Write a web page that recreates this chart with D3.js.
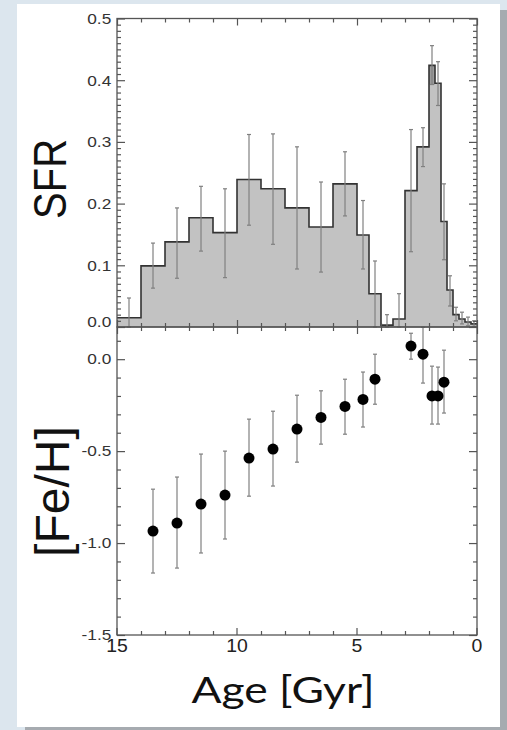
<!DOCTYPE html>
<html>
<head>
<meta charset="utf-8" />
<script src="https://cdn.jsdelivr.net/npm/d3@7"></script>
<style>
body{margin:0;overflow:hidden;}
svg .frame{fill:none;stroke:#555;stroke-width:1.3px;}
svg .axis path{display:none;}
svg .axis line{stroke:#555;stroke-width:1.2px;}
svg .axis text{font-family:"Liberation Sans",Arial,sans-serif;fill:#333;}
svg .hist{fill:#c2c2c2;stroke:none;}
svg .outline{fill:none;stroke:#333;stroke-width:1.6px;}
svg .err{stroke:#808080;stroke-width:1.2px;}
svg .title{font-family:"Liberation Sans",Arial,sans-serif;fill:#111;}
</style>
</head>
<body>
<div id="chart"></div>
<script>
// SFR histogram, bin edges in Gyr (old -> young)
var binEdges = [15,14,13,12,11,10,9,8,7,6,5,4.5,4,3.5,3,2.5,2,1.75,1.5,1.25,1,0.75,0.5,0.25,0];
var sfr   = [0.015,0.099,0.138,0.177,0.153,0.239,0.224,0.193,0.162,0.232,0.149,0.054,0.003,0.013,0.221,0.292,0.424,0.395,0.171,0.060,0.020,0.013,0.008,0.005];
var sfrLo = [0.000,0.063,0.079,0.123,0.080,0.165,0.134,0.094,0.089,0.180,0.094,0.000,0.000,0.000,0.122,0.260,0.393,0.359,0.109,0.034,0.010,0.005,0.002,0.001];
var sfrHi = [0.047,0.136,0.193,0.228,0.224,0.312,0.313,0.292,0.235,0.284,0.205,0.107,0.020,0.054,0.320,0.323,0.456,0.430,0.232,0.083,0.032,0.024,0.016,0.010];

// [Fe/H] vs age
var fehAge = [13.5,12.5,11.5,10.5,9.5,8.5,7.5,6.5,5.5,4.75,4.25,2.75,2.25,1.875,1.625,1.375];
var feh    = [-0.935,-0.891,-0.788,-0.739,-0.538,-0.489,-0.380,-0.317,-0.257,-0.219,-0.109,0.071,0.027,-0.200,-0.200,-0.125];
var fehHi  = [-0.707,-0.641,-0.516,-0.500,-0.326,-0.283,-0.196,-0.172,-0.109,-0.070,0.027,0.141,0.174,-0.038,-0.043,0.049];
var fehLo  = [-1.163,-1.136,-1.054,-0.978,-0.745,-0.690,-0.560,-0.462,-0.408,-0.369,-0.245,0.000,-0.130,-0.353,-0.353,-0.293];

var ageTicks = [15,10,5,0];
var sfrTicks = [0,0.1,0.2,0.3,0.4,0.5];
var fehTicks = [-1.5,-1.0,-0.5,0.0];

var width = 507, height = 730;
var left = 117, right = 477;

var svg = d3.select("#chart").append("svg")
    .attr("width", width)
    .attr("height", height);

// page background, shadow, white card
svg.append("rect").attr("width", width).attr("height", height).attr("fill", "#dce6ee");
svg.append("rect").attr("x", 25).attr("y", 10).attr("width", 482).attr("height", 720).attr("fill", "#a6abb0");
svg.append("rect").attr("x", 17).attr("y", 4).attr("width", 483).attr("height", 723).attr("fill", "#fff");

var x = d3.scaleLinear().domain([15,0]).range([left,right]);
var ySfr = d3.scaleLinear().domain([0,0.5]).range([327,18.5]);
var yFeh = d3.scaleLinear().domain([-1.5,0.175]).range([635,327]);

var bins = sfr.map(function(v,i){
    return {a:binEdges[i], b:binEdges[i+1], v:v, lo:sfrLo[i], hi:sfrHi[i]};
});
var steps = bins.map(function(d){ return {a:d.a, v:d.v}; });
steps.push({a:binEdges[binEdges.length-1], v:sfr[sfr.length-1]});

// histogram fill
var area = d3.area()
    .x(function(d){ return x(d.a); })
    .y0(ySfr(0))
    .y1(function(d){ return ySfr(d.v); })
    .curve(d3.curveStepAfter);
svg.append("path").datum(steps).attr("class","hist").attr("d", area);

// top of the peak bin a little darker
var peak = d3.max(sfr);
svg.selectAll("rect.peak")
    .data(bins.filter(function(d){ return d.v == peak; }))
    .enter().append("rect")
    .attr("class","peak")
    .attr("x", function(d){ return x(d.a); })
    .attr("width", function(d){ return x(d.b) - x(d.a); })
    .attr("y", function(d){ return ySfr(d.v); })
    .attr("height", function(d){ return ySfr(d.lo) - ySfr(d.v); })
    .attr("fill", "#9c9c9c");

var line = d3.line()
    .x(function(d){ return x(d.a); })
    .y(function(d){ return ySfr(d.v); })
    .curve(d3.curveStepAfter);
svg.append("path").datum(steps).attr("class","outline").attr("d", line);

// error bars helper
function errBars(g, data, xf, yLo, yHi){
    var e = g.selectAll("g").data(data).enter().append("g").attr("class","err");
    e.append("line").attr("x1", xf).attr("x2", xf).attr("y1", yLo).attr("y2", yHi);
    e.append("line").attr("x1", function(d){ return xf(d)-2; }).attr("x2", function(d){ return xf(d)+2; })
        .attr("y1", yHi).attr("y2", yHi);
    e.append("line").attr("x1", function(d){ return xf(d)-2; }).attr("x2", function(d){ return xf(d)+2; })
        .attr("y1", yLo).attr("y2", yLo);
}

errBars(svg.append("g"), bins,
    function(d){ return x((d.a+d.b)/2); },
    function(d){ return ySfr(d.lo); },
    function(d){ return ySfr(d.hi); });

// metallicity points
var pts = feh.map(function(v,i){ return {age:fehAge[i], v:v, lo:fehLo[i], hi:fehHi[i]}; });
errBars(svg.append("g"), pts,
    function(d){ return x(d.age); },
    function(d){ return yFeh(d.lo); },
    function(d){ return yFeh(d.hi); });
svg.append("g").selectAll("circle").data(pts).enter().append("circle")
    .attr("cx", function(d){ return x(d.age); })
    .attr("cy", function(d){ return yFeh(d.v); })
    .attr("r", 5.5)
    .attr("fill", "#000");

// axes
var ageMinor = d3.range(0,16).filter(function(a){ return a % 5 != 0; });
var sfrMinor = d3.range(1,50).filter(function(k){ return k % 10 != 0; }).map(function(k){ return k/100; });
var fehMinor = d3.range(-14,2).filter(function(k){ return k % 5 != 0; }).map(function(k){ return k/10; });
var fmt = function(d){ return d.toFixed(1); };

function addAxis(axis, tx, ty){
    return svg.append("g").attr("class","axis").attr("transform","translate("+tx+","+ty+")").call(axis);
}

// x axes: top of top panel, panel boundary, bottom
addAxis(d3.axisTop(x).tickValues(ageTicks).tickSizeInner(-7).tickFormat(""), 0, ySfr(0.5));
addAxis(d3.axisTop(x).tickValues(ageMinor).tickSizeInner(-4).tickFormat(""), 0, ySfr(0.5));
addAxis(d3.axisBottom(x).tickValues(ageTicks).tickSizeInner(-7).tickFormat(""), 0, 327);
addAxis(d3.axisBottom(x).tickValues(ageMinor).tickSizeInner(-4).tickFormat(""), 0, 327);
addAxis(d3.axisTop(x).tickValues(ageTicks).tickSizeInner(-7).tickFormat(""), 0, 327);
addAxis(d3.axisTop(x).tickValues(ageMinor).tickSizeInner(-4).tickFormat(""), 0, 327);
var xb = addAxis(d3.axisBottom(x).tickValues(ageTicks).tickSizeInner(-7).tickPadding(4).tickFormat(d3.format("d")), 0, 635);
xb.selectAll("text").style("font-size","18px").style("fill","#222")
    .attr("transform","scale(1.08,1)")
    .attr("x", function(){ return 0; });
xb.selectAll(".tick").attr("transform", function(d){ return "translate("+x(d)+",0)"; });
addAxis(d3.axisBottom(x).tickValues(ageMinor).tickSizeInner(-4).tickFormat(""), 0, 635);

// y axes, top panel
var ys = addAxis(d3.axisLeft(ySfr).tickValues(sfrTicks).tickSizeInner(-8).tickPadding(5).tickFormat(fmt), left, 0);
ys.selectAll("text").style("font-size","15px")
    .attr("transform","scale(1.15,1)")
    .attr("dy", function(d){ return d == 0 ? "-0.05em" : "0.32em"; });
addAxis(d3.axisLeft(ySfr).tickValues(sfrMinor).tickSizeInner(-4).tickFormat(""), left, 0);
addAxis(d3.axisRight(ySfr).tickValues(sfrTicks).tickSizeInner(-8).tickFormat(""), right, 0);
addAxis(d3.axisRight(ySfr).tickValues(sfrMinor).tickSizeInner(-4).tickFormat(""), right, 0);

// y axes, bottom panel
var yf = addAxis(d3.axisLeft(yFeh).tickValues(fehTicks).tickSizeInner(-8).tickPadding(5).tickFormat(fmt), left, 0);
yf.selectAll("text").style("font-size","15px").attr("transform","scale(1.15,1)");
addAxis(d3.axisLeft(yFeh).tickValues(fehMinor).tickSizeInner(-4).tickFormat(""), left, 0);
addAxis(d3.axisRight(yFeh).tickValues(fehTicks).tickSizeInner(-8).tickFormat(""), right, 0);
addAxis(d3.axisRight(yFeh).tickValues(fehMinor).tickSizeInner(-4).tickFormat(""), right, 0);

// frames
svg.append("rect").attr("class","frame")
    .attr("x", left).attr("y", ySfr(0.5)).attr("width", right-left).attr("height", ySfr(0)-ySfr(0.5));
svg.append("rect").attr("class","frame")
    .attr("x", left).attr("y", yFeh(0.175)).attr("width", right-left).attr("height", yFeh(-1.5)-yFeh(0.175));

// titles
svg.append("text").attr("class","title")
    .attr("transform","translate(50,"+ySfr(0.24)+") scale(1.15,1) rotate(-90)")
    .attr("text-anchor","middle").attr("dominant-baseline","central")
    .style("font-size","40px")
    .text("SFR");
svg.append("text").attr("class","title")
    .attr("transform","translate(52,"+yFeh(-0.72)+") rotate(-90)")
    .attr("text-anchor","middle").attr("dominant-baseline","central")
    .style("font-size","48px")
    .text("[Fe/H]");
svg.append("text")
    .attr("x", 283).attr("y", 703)
    .attr("text-anchor","middle")
    .attr("textLength", 183)
    .attr("lengthAdjust","spacingAndGlyphs")
    .style("font-family","Lato, 'Open Sans', sans-serif")
    .style("font-size","36px")
    .style("fill","#111")
    .text("Age [Gyr]");
</script>
</body>
</html>
